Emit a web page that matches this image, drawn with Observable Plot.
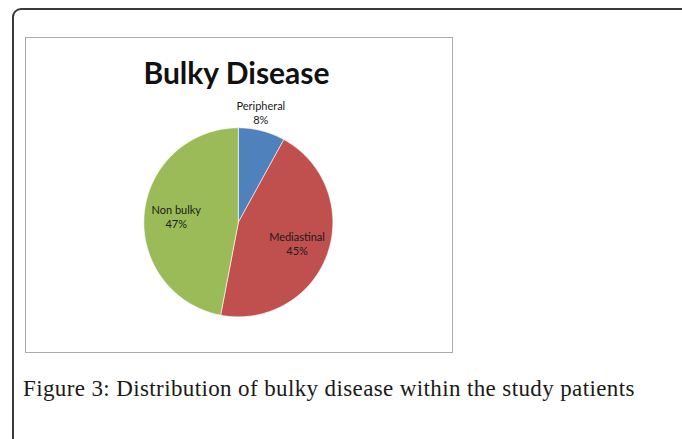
<!DOCTYPE html>
<html>
<head>
<meta charset="utf-8">
<script src="https://cdn.jsdelivr.net/npm/d3@7"></script>
<script src="https://cdn.jsdelivr.net/npm/@observablehq/plot@0.6"></script>
<style>
  html, body { margin: 0; padding: 0; background: #fff; width: 682px; height: 439px; overflow: hidden; }
  #outer { position: absolute; left: 12px; top: 8px; width: 700px; height: 460px;
           border: 2px solid #3a3a3a; border-radius: 9px; box-sizing: border-box; }
  #box { position: absolute; left: 25px; top: 37px; width: 428px; height: 316px;
         border: 1.5px solid #ababab; box-sizing: border-box; }
  #title { position: absolute; left: 25px; width: 423px; top: 52px; text-align: center;
           font-family: Lato, sans-serif; font-weight: bold; font-size: 30px; color: #111; line-height: 40px; }
  #chart { position: absolute; }
  #caption { position: absolute; left: 23px; top: 376px; font-family: "Liberation Serif", serif;
             font-size: 23px; letter-spacing: 0.38px; color: #1a1a1a; white-space: nowrap; line-height: 26px; }
</style>
</head>
<body>
<div id="outer"></div>
<div id="box"></div>
<div id="title">Bulky Disease</div>
<div id="chart"></div>
<div id="caption">Figure 3: Distribution of bulky disease within the study patients</div>
<script>
const categories = ["Peripheral", "Mediastinal", "Non bulky"];
const values = [8, 45, 47];
const colors = ["#4F81BD", "#C0504D", "#9BBB59"];

const radiusPx = 94.5;
const ext = 1.3;
const size = 2 * ext * radiusPx;
const cx = 237.7, cy = 222;

const arcs = d3.pie().sort(null).value(d => d.value)(categories.map((c, i) => ({category: c, value: values[i]})));

const pts = [];
arcs.forEach(a => {
  const n = Math.max(4, Math.ceil((a.endAngle - a.startAngle) / 0.01));
  pts.push({category: a.data.category, x: 0, y: 0});
  for (let k = 0; k <= n; k++) {
    const t = a.startAngle + (a.endAngle - a.startAngle) * k / n;
    pts.push({category: a.data.category, x: Math.sin(t), y: Math.cos(t)});
  }
  pts.push({category: a.data.category, x: 0, y: 0});
});

const labels = [];
arcs.forEach(a => {
  const share = a.data.value / d3.sum(values);
  const outside = share < 0.1;
  const mid = (a.startAngle + a.endAngle) / 2;
  const ang = outside ? mid * 0.8 : mid;
  const r = outside ? 1.19 : 0.66;
  const pct = Math.round(share * 100) + "%";
  labels.push({text: a.data.category + "\n" + pct, x: r * Math.sin(ang), y: r * Math.cos(ang)});
});

const plot = Plot.plot({
  width: size,
  height: size,
  margin: 0,
  x: {domain: [-ext, ext], axis: null},
  y: {domain: [-ext, ext], axis: null},
  color: {domain: categories, range: colors},
  style: {background: "transparent", overflow: "visible"},
  marks: [
    Plot.line(pts, {x: "x", y: "y", z: "category", fill: "category", stroke: "#fff", strokeWidth: 0.6, curve: "linear"}),
    Plot.text(labels, {x: "x", y: "y", text: "text", fontSize: 11, fontFamily: "Lato, sans-serif", fill: "#1a1a1a", lineHeight: 1.3})
  ]
});
const holder = document.getElementById("chart");
holder.style.left = (cx - size / 2) + "px";
holder.style.top = (cy - size / 2) + "px";
holder.appendChild(plot);
</script>
</body>
</html>
